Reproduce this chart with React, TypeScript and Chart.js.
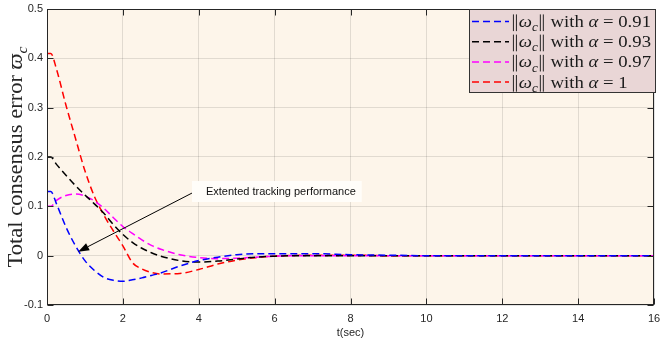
import React, { useEffect, useRef } from "react";
import { Chart, registerables } from "chart.js";
Chart.register(...registerables);

// ---- data ----
const tData = [0, 0.1, 0.25, 0.5, 0.75, 1, 1.25, 1.5, 1.75, 2, 2.25, 2.5, 2.75, 3, 3.5, 4, 4.5, 5, 5.5, 6, 7, 8, 9, 10, 12, 14, 16];
const errAlpha091 = [0.13, 0.13, 0.105, 0.058, 0.02, -0.01, -0.03, -0.044, -0.05, -0.052, -0.049, -0.045, -0.04, -0.035, -0.021, -0.01, -0.003, 0.002, 0.004, 0.004, 0.004, 0.002, 0.001, 0, 0, 0, 0];
const errAlpha093 = [0.2, 0.2, 0.185, 0.163, 0.142, 0.123, 0.105, 0.086, 0.063, 0.043, 0.027, 0.015, 0.006, -0.001, -0.01, -0.013, -0.011, -0.007, -0.003, -0.001, 0, 0, 0, 0, 0, 0, 0];
const errAlpha097 = [0.1, 0.1, 0.112, 0.122, 0.125, 0.121, 0.111, 0.096, 0.077, 0.059, 0.045, 0.032, 0.021, 0.013, 0.002, -0.004, -0.006, -0.005, -0.003, -0.001, 0, 0, 0, 0, 0, 0, 0];
const errAlpha1 = [0.41, 0.41, 0.378, 0.305, 0.238, 0.172, 0.12, 0.082, 0.05, 0.02, -0.014, -0.027, -0.034, -0.037, -0.036, -0.028, -0.017, -0.009, -0.004, -0.001, 0.001, 0.001, 0, 0, 0, 0, 0];

const seriesValues = [errAlpha091, errAlpha093, errAlpha097, errAlpha1];
const alphaLabels = ["0.91", "0.93", "0.97", "1"];
const seriesColors = ["#0000ff", "#000000", "#ff00ff", "#ff0000"];

const xTicks = [0, 2, 4, 6, 8, 10, 12, 14, 16];
const xTickLabels = ["0", "2", "4", "6", "8", "10", "12", "14", "16"];
const yTicks = [-0.1, 0, 0.1, 0.2, 0.3, 0.4, 0.5];
const yTickLabels = ["-0.1", "0", "0.1", "0.2", "0.3", "0.4", "0.5"];

const xTitle = "t(sec)";
const yTitleText = "Total consensus error ";
const annotationText = "Extented tracking performance";
const annTail = { x: 3.85, y: 0.128 };
const annTip = { x: 0.82, y: 0.008 };
const annTextPos = { x: 4.19, y: 0.13 };

// ---- styles ----
const PLOT_BG = "#fdf5ea";
const GRID = "rgba(38,38,38,0.13)";
const AXIS = "#262626";
const SANS = '"Liberation Sans", Arial, Helvetica, sans-serif';
const SERIF = '"Liberation Serif", "DejaVu Serif", serif';
const DASH = [7, 4];

type Seg = { t: string; it?: boolean; sub?: boolean; bars?: boolean };
function segFont(s: Seg, size: number) {
  const sz = s.sub ? size * 0.7 : size;
  return `${s.it ? "italic " : ""}${sz}px ${SERIF}`;
}
function segWidth(ctx: CanvasRenderingContext2D, s: Seg, size: number) {
  if (s.bars) return size * 0.42;
  ctx.font = segFont(s, size);
  return ctx.measureText(s.t).width;
}
function drawRich(ctx: CanvasRenderingContext2D, segs: Seg[], x: number, y: number, size: number, scaleX = 1) {
  ctx.save();
  ctx.translate(x, y);
  ctx.scale(scaleX, 1);
  ctx.textAlign = "left";
  ctx.textBaseline = "alphabetic";
  let cx = 0;
  for (const s of segs) {
    const w = segWidth(ctx, s, size);
    if (s.bars) {
      ctx.save();
      ctx.strokeStyle = ctx.fillStyle as string;
      ctx.lineWidth = 0.9;
      ctx.beginPath();
      const b1 = cx + size * 0.13, b2 = cx + size * 0.29;
      ctx.moveTo(b1, size * 0.24); ctx.lineTo(b1, -size * 0.74);
      ctx.moveTo(b2, size * 0.24); ctx.lineTo(b2, -size * 0.74);
      ctx.stroke();
      ctx.restore();
    } else {
      ctx.font = segFont(s, size);
      ctx.fillText(s.t, cx, s.sub ? size * 0.25 : 0);
    }
    cx += w;
  }
  ctx.restore();
}
function richWidth(ctx: CanvasRenderingContext2D, segs: Seg[], size: number) {
  let w = 0;
  for (const s of segs) w += segWidth(ctx, s, size);
  return w;
}

const bgPlugin = {
  id: "bgPlugin",
  beforeDraw(chart: any) {
    const { ctx, chartArea: a, width, height } = chart;
    ctx.save();
    ctx.fillStyle = "#ffffff";
    ctx.fillRect(0, 0, width, height);
    ctx.fillStyle = PLOT_BG;
    ctx.fillRect(a.left, a.top, a.right - a.left, a.bottom - a.top);
    ctx.restore();
  },
};

const boxPlugin = {
  id: "boxPlugin",
  afterDatasetsDraw(chart: any) {
    const { ctx, chartArea: a, scales } = chart;
    const L = Math.round(a.left) + 0.5, R = Math.round(a.right) - 0.5;
    const T = Math.round(a.top) + 0.5, B = Math.round(a.bottom) - 0.5;
    ctx.save();
    ctx.strokeStyle = AXIS;
    ctx.lineWidth = 1;
    ctx.setLineDash([]);
    ctx.strokeRect(L, T, R - L, B - T);
    const tl = 6;
    ctx.beginPath();
    for (const v of xTicks) {
      const px = Math.round(scales.x.getPixelForValue(v)) + 0.5;
      ctx.moveTo(px, B); ctx.lineTo(px, B - tl);
      ctx.moveTo(px, T); ctx.lineTo(px, T + tl);
    }
    for (const v of yTicks) {
      const py = Math.round(scales.y.getPixelForValue(v)) + 0.5;
      ctx.moveTo(L, py); ctx.lineTo(L + tl, py);
      ctx.moveTo(R, py); ctx.lineTo(R - tl, py);
    }
    ctx.stroke();

    // annotation arrow + text box
    const tx = scales.x.getPixelForValue(annTail.x), ty = scales.y.getPixelForValue(annTail.y);
    const hx = scales.x.getPixelForValue(annTip.x), hy = scales.y.getPixelForValue(annTip.y);
    const ang = Math.atan2(hy - ty, hx - tx);
    const hl = 11, hw = 4;
    const bx = hx - hl * Math.cos(ang), by = hy - hl * Math.sin(ang);
    ctx.strokeStyle = "#000";
    ctx.fillStyle = "#000";
    ctx.lineWidth = 1;
    ctx.beginPath();
    ctx.moveTo(tx, ty);
    ctx.lineTo(bx, by);
    ctx.stroke();
    ctx.beginPath();
    ctx.moveTo(hx, hy);
    ctx.lineTo(bx + hw * Math.sin(ang), by - hw * Math.cos(ang));
    ctx.lineTo(bx - hw * Math.sin(ang), by + hw * Math.cos(ang));
    ctx.closePath();
    ctx.fill();

    const textX = scales.x.getPixelForValue(annTextPos.x);
    const textY = scales.y.getPixelForValue(annTextPos.y);
    ctx.font = `11px ${SANS}`;
    const tw = ctx.measureText(annotationText).width;
    ctx.fillStyle = "#fffdf9";
    ctx.fillRect(textX - 14, textY - 10.5, tw + 20, 21);
    ctx.fillStyle = "#111";
    ctx.textAlign = "left";
    ctx.textBaseline = "middle";
    ctx.fillText(annotationText, textX, textY + 0.5);
    ctx.restore();
  },
};

const overlayPlugin = {
  id: "overlayPlugin",
  afterDraw(chart: any) {
    const { ctx, chartArea: a } = chart;
    ctx.save();
    // x title
    ctx.fillStyle = AXIS;
    ctx.font = `11px ${SANS}`;
    ctx.textAlign = "center";
    ctx.textBaseline = "middle";
    ctx.fillText(xTitle, (a.left + a.right) / 2, a.bottom + 28);

    // y title
    const cy = (a.top + a.bottom) / 2;
    const titleW = 221;
    const ySegs: Seg[] = [{ t: yTitleText }, { t: "ϖ", it: true }, { t: "c", it: true, sub: true }];
    const ySize = 20;
    const ySx = titleW / richWidth(ctx, ySegs, ySize);
    ctx.save();
    ctx.translate(a.left - 25, cy + titleW / 2);
    ctx.rotate(-Math.PI / 2);
    ctx.fillStyle = AXIS;
    drawRich(ctx, ySegs, 0, 0, ySize, ySx);
    ctx.restore();

    // legend
    const lx = a.right - 185, ly = a.top, lw = 187, lh = 84;
    ctx.fillStyle = "#e9d6d6";
    ctx.fillRect(lx, ly, lw, lh);
    ctx.strokeStyle = "#333";
    ctx.lineWidth = 1;
    ctx.setLineDash([]);
    ctx.strokeRect(Math.round(lx) + 0.5, Math.round(ly) + 0.5, lw - 1, lh - 1);
    const lSize = 17;
    const mkSegs = (lab: string): Seg[] => [
      { t: "", bars: true },
      { t: "ω", it: true },
      { t: "c", it: true, sub: true },
      { t: "", bars: true },
      { t: " with " },
      { t: "α", it: true },
      { t: " = " + lab },
    ];
    const lSx = 140 / richWidth(ctx, mkSegs(alphaLabels[0]), lSize);
    for (let i = 0; i < alphaLabels.length; i++) {
      const rowY = ly + 12.5 + i * 20.2;
      ctx.strokeStyle = seriesColors[i];
      ctx.lineWidth = 1.5;
      ctx.setLineDash(DASH);
      ctx.beginPath();
      ctx.moveTo(lx + 3, rowY);
      ctx.lineTo(lx + 40, rowY);
      ctx.stroke();
      ctx.setLineDash([]);
      ctx.fillStyle = "#1a1a1a";
      drawRich(ctx, mkSegs(alphaLabels[i]), lx + 42, rowY + 5.5, lSize, lSx);
    }
    ctx.restore();
  },
};

export default function App() {
  const ref = useRef<HTMLCanvasElement | null>(null);
  useEffect(() => {
    if (!ref.current) return;
    const datasets = seriesValues.map((vals, i) => ({
      label: "alpha = " + alphaLabels[i],
      data: tData.map((t, j) => ({ x: t, y: vals[j] })),
      borderColor: seriesColors[i],
      borderWidth: 1.5,
      borderDash: DASH,
      pointRadius: 0,
      fill: false,
      cubicInterpolationMode: "monotone" as const,
    }));
    const chart = new Chart(ref.current, {
      type: "line",
      data: { datasets },
      options: {
        animation: false,
        responsive: true,
        maintainAspectRatio: false,
        events: [],
        layout: { padding: { top: 9, right: 8, left: 0, bottom: 0 } },
        plugins: { legend: { display: false }, tooltip: { enabled: false } },
        scales: {
          x: {
            type: "linear",
            min: 0,
            max: 16,
            afterBuildTicks: (s: any) => { s.ticks = xTicks.map((v) => ({ value: v })); },
            afterFit: (s: any) => { s.height = 42; s.paddingLeft = 0; s.paddingRight = 0; },
            ticks: {
              color: AXIS,
              font: { family: SANS, size: 11 },
              padding: 7,
              maxRotation: 0,
              autoSkip: false,
              callback: (_v: any, i: number) => xTickLabels[i],
            },
            grid: { color: GRID, drawTicks: false, lineWidth: 1 },
            border: { display: false },
          },
          y: {
            type: "linear",
            min: -0.1,
            max: 0.5,
            afterBuildTicks: (s: any) => { s.ticks = yTicks.map((v) => ({ value: v })); },
            afterFit: (s: any) => { s.width = 47; s.paddingTop = 0; s.paddingBottom = 0; },
            ticks: {
              color: AXIS,
              font: { family: SANS, size: 11 },
              padding: 4,
              autoSkip: false,
              callback: (_v: any, i: number) => yTickLabels[i],
            },
            grid: { color: GRID, drawTicks: false, lineWidth: 1 },
            border: { display: false },
          },
        },
      },
      plugins: [bgPlugin, boxPlugin, overlayPlugin],
    } as any);
    return () => chart.destroy();
  }, []);
  return (
    <div style={{ position: "fixed", left: 0, top: 0, width: 662, height: 347 }}>
      <canvas ref={ref} />
    </div>
  );
}
